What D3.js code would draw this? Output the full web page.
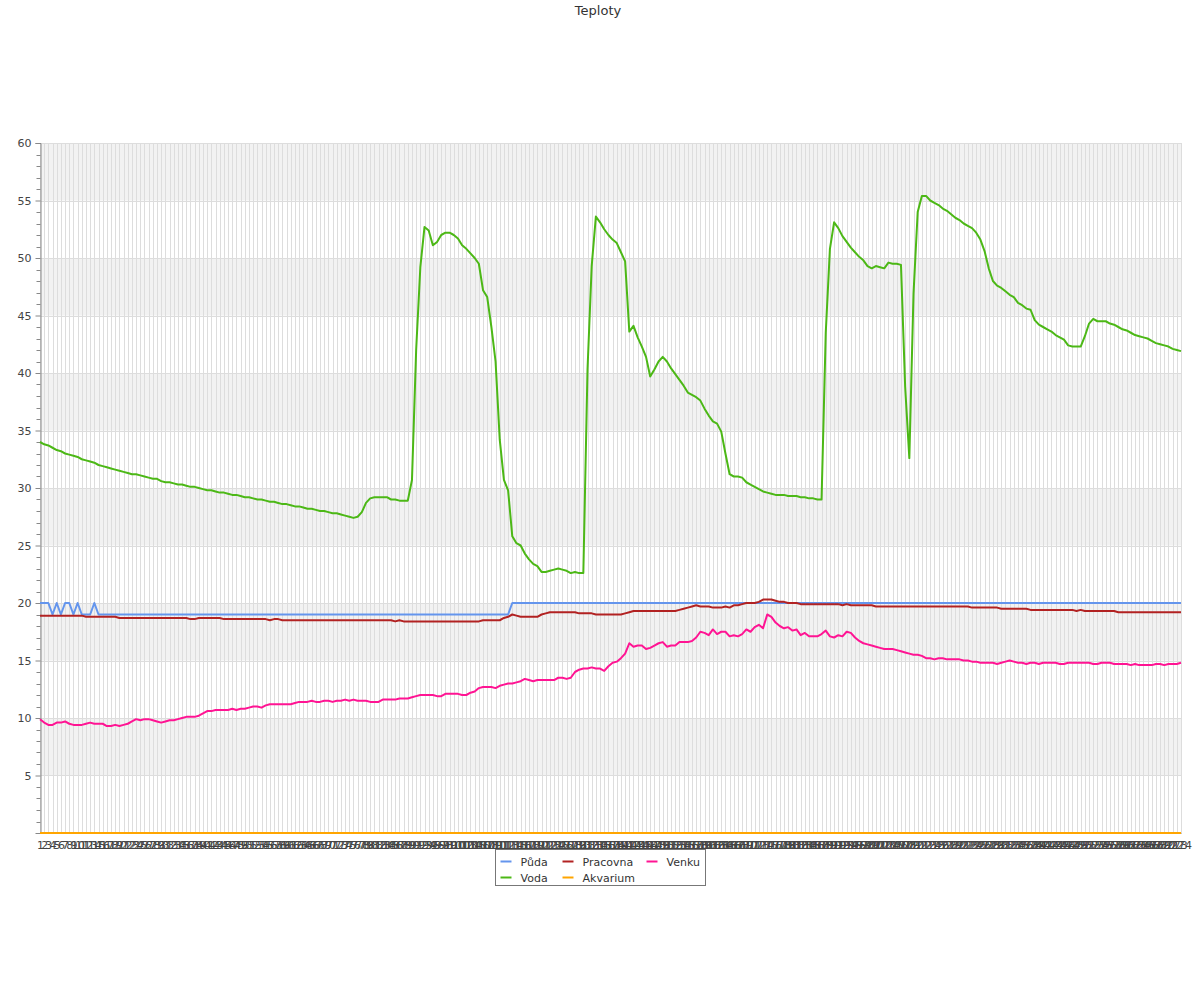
<!DOCTYPE html>
<html><head><meta charset="utf-8">
<script src="https://cdn.jsdelivr.net/npm/d3@7"></script>
<style>body{margin:0;background:#fff;font-family:"DejaVu Sans",sans-serif}</style>
</head><body>
<svg id="c" width="1200" height="1000"></svg>
<script>
const title = "Teploty";
const categories = d3.range(1, 275).map(String);
const yTicks = [5,10,15,20,25,30,35,40,45,50,55,60];
const seriesNames = ["Půda","Voda","Pracovna","Akvarium","Venku"];
const seriesColors = ["#6495ed","#4cb816","#b22222","#ffa500","#ff1493"];

const puda = [20,20,20,19,20,19,20,20,19,20,19,19,19,20,19,
19,19,19,19,19,19,19,19,19,19,19,19,19,19,19,19,19,19,19,19,19,19,19,19,19,
19,19,19,19,19,19,19,19,19,19,19,19,19,19,19,19,19,19,19,19,19,19,19,19,19,
19,19,19,19,19,19,19,19,19,19,19,19,19,19,19,19,19,19,19,19,19,19,19,19,19,
19,19,19,19,19,19,19,19,19,19,19,19,19,19,19,19,19,19,
19,19,19,19,19,
20,20,20,20,20,20,20,20,20,20,20,20,20,20,20,20,20,20,20,20,20,20,20,20,20,
20,20,20,20,20,20,20,20,20,20,20,20,20,20,20,20,20,20,20,20,20,20,20,20,20,
20,20,20,20,20,20,20,20,20,20,20,20,20,20,20,20,20,20,20,20,20,20,20,20,20,
20,20,20,20,20,20,20,20,20,20,20,20,20,20,20,20,20,20,20,20,20,20,20,20,20,
20,20,20,20,20,20,20,20,20,20,20,20,20,20,20,20,20,20,20,20,20,20,20,20,20,
20,20,20,20,20,20,20,20,20,20,20,20,20,20,20,20,
20,20,20,20,20,20,20,20,20,20,20,20,20,20,20,20,20,20,20,20];

const voda = [34.0,33.8,33.7,33.5,33.3,33.2,33.0,32.9,32.8,32.7,
32.5,32.4,32.3,32.2,32.0,31.9,31.8,31.7,31.6,31.5,
31.4,31.3,31.2,31.2,31.1,31.0,30.9,30.8,30.8,30.6,
30.5,30.5,30.4,30.3,30.3,30.2,30.1,30.1,30.0,29.9,
29.8,29.8,29.7,29.6,29.6,29.5,29.4,29.4,29.3,29.2,
29.2,29.1,29.0,29.0,28.9,28.8,28.8,28.7,28.6,28.6,
28.5,28.4,28.4,28.3,28.2,28.2,28.1,28.0,28.0,27.9,
27.8,27.8,27.7,27.6,27.5,27.4,27.5,27.9,28.7,29.1,
29.2,29.2,29.2,29.2,29.0,29.0,28.9,28.9,28.9,30.7,
42.0,49.2,52.7,52.4,51.1,51.4,52.0,52.2,52.2,52.0,
51.7,51.1,50.8,50.4,50.0,49.5,47.2,46.6,44.0,41.0,
34.2,30.7,29.8,25.8,25.2,25.0,24.3,23.8,23.4,23.2,
22.7,22.7,22.8,22.9,23.0,22.9,22.8,22.6,22.7,22.6,
22.6,40.3,49.3,53.6,53.1,52.5,52.0,51.6,51.3,50.5,
49.7,43.6,44.1,43.1,42.3,41.4,39.7,40.3,41.0,41.4,
41.0,40.4,39.9,39.4,38.9,38.3,38.1,37.9,37.6,36.9,
36.3,35.8,35.6,34.9,33.0,31.2,31.0,31.0,30.9,30.5,
30.3,30.1,29.9,29.7,29.6,29.5,29.4,29.4,29.4,29.3,
29.3,29.3,29.2,29.2,29.1,29.1,29.0,29.0,43.5,50.8,
53.1,52.6,51.9,51.4,50.9,50.5,50.1,49.8,49.3,49.1,
49.3,49.2,49.1,49.6,49.5,49.5,49.4,38.8,32.6,46.9,
54.0,55.4,55.4,55.0,54.8,54.6,54.3,54.1,53.8,53.5,
53.3,53.0,52.8,52.6,52.2,51.6,50.6,49.1,48.0,47.6,
47.4,47.1,46.8,46.6,46.1,45.9,45.6,45.5,44.6,44.2,
44.0,43.8,43.6,43.3,43.1,42.9,42.4,42.3,42.3,42.3,
43.2,44.3,44.7,44.5,44.5,44.5,44.3,44.2,44.0,43.8,
43.7,43.5,43.3,43.2,43.1,43.0,42.8,42.6,42.5,42.4,
42.3,42.1,42.0,41.9];

const pracovna = [18.9,18.9,18.9,18.9,18.9,18.9,18.9,18.9,18.9,18.9,
18.9,18.8,18.8,18.8,18.8,18.8,18.8,18.8,18.8,18.7,
18.7,18.7,18.7,18.7,18.7,18.7,18.7,18.7,18.7,18.7,
18.7,18.7,18.7,18.7,18.7,18.7,18.6,18.6,18.7,18.7,
18.7,18.7,18.7,18.7,18.6,18.6,18.6,18.6,18.6,18.6,
18.6,18.6,18.6,18.6,18.6,18.5,18.6,18.6,18.5,18.5,
18.5,18.5,18.5,18.5,18.5,18.5,18.5,18.5,18.5,18.5,
18.5,18.5,18.5,18.5,18.5,18.5,18.5,18.5,18.5,18.5,
18.5,18.5,18.5,18.5,18.5,18.4,18.5,18.4,18.4,18.4,
18.4,18.4,18.4,18.4,18.4,18.4,18.4,18.4,18.4,18.4,
18.4,18.4,18.4,18.4,18.4,18.4,18.5,18.5,18.5,18.5,
18.5,18.7,18.8,19.0,18.9,18.8,18.8,18.8,18.8,18.8,
19.0,19.1,19.2,19.2,19.2,19.2,19.2,19.2,19.2,19.1,
19.1,19.1,19.1,19.0,19.0,19.0,19.0,19.0,19.0,19.0,
19.1,19.2,19.3,19.3,19.3,19.3,19.3,19.3,19.3,19.3,
19.3,19.3,19.3,19.4,19.5,19.6,19.7,19.8,19.7,19.7,
19.7,19.6,19.6,19.6,19.7,19.6,19.8,19.8,19.9,20.0,
20.0,20.0,20.1,20.3,20.3,20.3,20.2,20.1,20.1,20.0,
20.0,20.0,19.9,19.9,19.9,19.9,19.9,19.9,19.9,19.9,
19.9,19.9,19.8,19.9,19.8,19.8,19.8,19.8,19.8,19.8,
19.7,19.7,19.7,19.7,19.7,19.7,19.7,19.7,19.7,19.7,
19.7,19.7,19.7,19.7,19.7,19.7,19.7,19.7,19.7,19.7,
19.7,19.7,19.7,19.6,19.6,19.6,19.6,19.6,19.6,19.6,
19.5,19.5,19.5,19.5,19.5,19.5,19.5,19.4,19.4,19.4,
19.4,19.4,19.4,19.4,19.4,19.4,19.4,19.4,19.3,19.4,
19.3,19.3,19.3,19.3,19.3,19.3,19.3,19.3,19.2,19.2,
19.2,19.2,19.2,19.2,19.2,19.2,19.2,19.2,19.2,19.2,
19.2,19.2,19.2,19.2];

const akvarium = categories.map(() => 0);

const venku = [9.9,9.6,9.4,9.4,9.6,9.6,9.7,9.5,9.4,9.4,
9.4,9.5,9.6,9.5,9.5,9.5,9.3,9.3,9.4,9.3,
9.4,9.5,9.7,9.9,9.8,9.9,9.9,9.8,9.7,9.6,
9.7,9.8,9.8,9.9,10.0,10.1,10.1,10.1,10.2,10.4,
10.6,10.6,10.7,10.7,10.7,10.7,10.8,10.7,10.8,10.8,
10.9,11.0,11.0,10.9,11.1,11.2,11.2,11.2,11.2,11.2,
11.2,11.3,11.4,11.4,11.4,11.5,11.4,11.4,11.5,11.5,
11.4,11.5,11.5,11.6,11.5,11.6,11.5,11.5,11.5,11.4,
11.4,11.4,11.6,11.6,11.6,11.6,11.7,11.7,11.7,11.8,
11.9,12.0,12.0,12.0,12.0,11.9,11.9,12.1,12.1,12.1,
12.1,12.0,12.0,12.2,12.3,12.6,12.7,12.7,12.7,12.6,
12.8,12.9,13.0,13.0,13.1,13.2,13.4,13.3,13.2,13.3,
13.3,13.3,13.3,13.3,13.5,13.5,13.4,13.5,14.0,14.2,
14.3,14.3,14.4,14.3,14.3,14.1,14.5,14.8,14.9,15.2,
15.6,16.5,16.2,16.3,16.3,16.0,16.1,16.3,16.5,16.6,
16.2,16.3,16.3,16.6,16.6,16.6,16.7,17.0,17.5,17.4,
17.2,17.7,17.3,17.5,17.5,17.1,17.2,17.1,17.3,17.7,
17.5,17.9,18.1,17.8,19.0,18.8,18.3,18.0,17.8,17.9,
17.6,17.7,17.2,17.4,17.1,17.1,17.1,17.3,17.6,17.1,
17.0,17.2,17.1,17.5,17.4,17.0,16.7,16.5,16.4,16.3,
16.2,16.1,16.0,16.0,16.0,15.9,15.8,15.7,15.6,15.5,
15.5,15.4,15.2,15.2,15.1,15.2,15.2,15.1,15.1,15.1,
15.1,15.0,15.0,14.9,14.9,14.8,14.8,14.8,14.8,14.7,
14.8,14.9,15.0,14.9,14.8,14.8,14.7,14.8,14.8,14.7,
14.8,14.8,14.8,14.8,14.7,14.7,14.8,14.8,14.8,14.8,
14.8,14.8,14.7,14.7,14.8,14.8,14.8,14.7,14.7,14.7,
14.7,14.6,14.7,14.6,14.6,14.6,14.6,14.7,14.7,14.6,
14.7,14.7,14.7,14.8];

const seriesData = [puda, voda, pracovna, akvarium, venku];

const svg = d3.select("#c");
const pLeft = 40, pRight = 1181, pTop = 143, pBottom = 833;
const x = d3.scalePoint().domain(categories).range([pLeft, pRight]);
const y = d3.scaleLinear().domain([0, 60]).range([pBottom, pTop]);

svg.append("text").attr("x", 598).attr("y", 15).attr("text-anchor", "middle")
  .attr("font-size", 13).attr("fill", "#333").text(title);

const g = svg.append("g");
for (let v = 5; v < 60; v += 10) {
  g.append("rect").attr("x", pLeft).attr("width", pRight - pLeft)
    .attr("y", y(v + 5)).attr("height", y(v) - y(v + 5)).attr("fill", "#f2f2f2");
}
g.selectAll("line.vg").data(categories).enter().append("line")
  .attr("x1", d => Math.round(x(d)) + 0.5).attr("x2", d => Math.round(x(d)) + 0.5)
  .attr("y1", pTop).attr("y2", pBottom).attr("stroke", "#dddddd").attr("stroke-width", 1);
g.selectAll("line.hg").data(yTicks).enter().append("line")
  .attr("x1", pLeft).attr("x2", pRight)
  .attr("y1", d => Math.round(y(d)) + 0.5).attr("y2", d => Math.round(y(d)) + 0.5)
  .attr("stroke", "#dddddd");

const yAxis = d3.axisLeft(y).tickValues(yTicks).tickSize(5).tickPadding(4);
const ya = svg.append("g").attr("transform", `translate(${pLeft + 0.5},0)`).call(yAxis);
ya.select(".domain").attr("stroke", "#888");
ya.selectAll(".tick line").attr("stroke", "#888");
ya.selectAll("text").attr("font-size", 11).attr("fill", "#444").attr("font-family", "DejaVu Sans");
const minor = d3.range(1, 60).filter(v => v % 5 !== 0);
ya.selectAll("line.minor").data(minor).enter().append("line")
  .attr("x1", -4).attr("x2", 0)
  .attr("y1", d => Math.round(y(d)) + 0.5).attr("y2", d => Math.round(y(d)) + 0.5)
  .attr("stroke", "#888");

const xAxis = d3.axisBottom(x).tickSize(0).tickPadding(8);
const xa = svg.append("g").attr("transform", `translate(0,${pBottom})`).call(xAxis);
xa.select(".domain").attr("stroke", "#888");
xa.selectAll("text").attr("font-size", 11).attr("fill", "#444").attr("font-family", "DejaVu Sans");

const line = d3.line().x((d, i) => x(categories[i])).y(d => y(d));
[0, 1, 2, 4, 3].forEach(k => {
  svg.append("path").datum(seriesData[k]).attr("d", line)
    .attr("fill", "none").attr("stroke", seriesColors[k]).attr("stroke-width", 2)
    .attr("stroke-linejoin", "round");
});

const lg = svg.append("g").attr("transform", "translate(495.5,849.5)");
lg.append("rect").attr("width", 210).attr("height", 36).attr("fill", "#fff").attr("stroke", "#777");
const legendPos = [[5, 12], [5, 28], [67, 12], [67, 28], [151, 12]];
seriesNames.forEach((n, k) => {
  const [lx, ly] = legendPos[k];
  lg.append("line").attr("x1", lx).attr("x2", lx + 11).attr("y1", ly).attr("y2", ly)
    .attr("stroke", seriesColors[k]).attr("stroke-width", 2);
  lg.append("text").attr("x", lx + 20).attr("y", ly + 4).attr("font-size", 11)
    .attr("fill", "#333").text(n);
});
</script>
</body></html>
